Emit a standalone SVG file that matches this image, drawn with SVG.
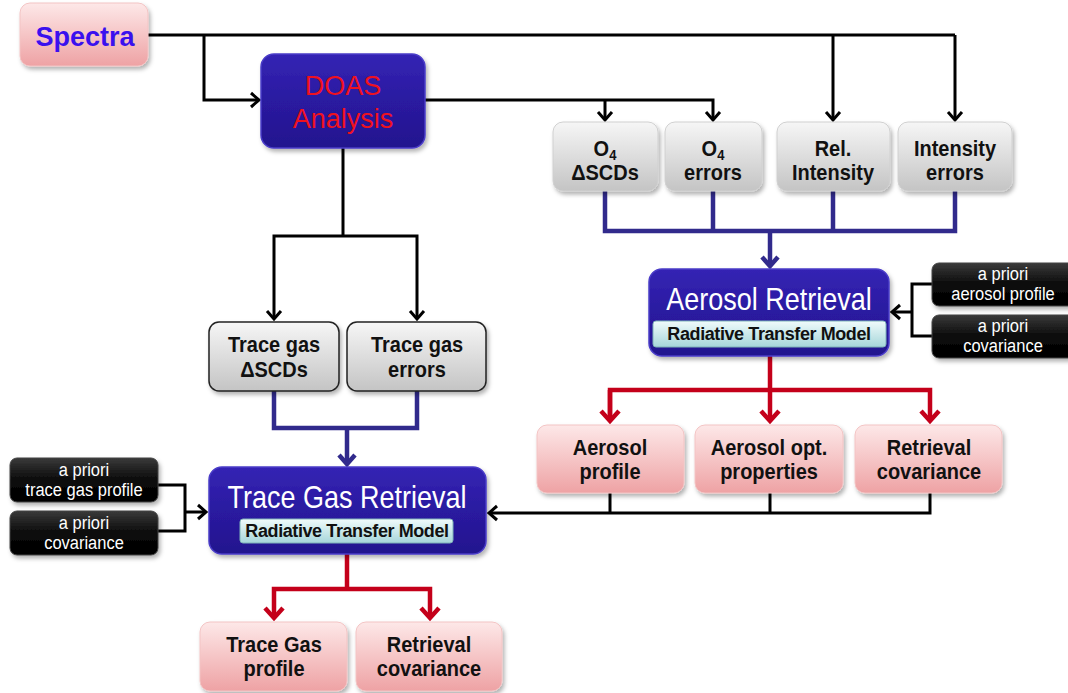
<svg xmlns="http://www.w3.org/2000/svg" width="1068" height="693" viewBox="0 0 1068 693">
<style>
text{font-family:"Liberation Sans",Arial,sans-serif;text-anchor:middle}
.lbl{font-size:20px;font-weight:bold;fill:#111}
.ap{font-size:16.5px;fill:#fff}
.big{font-size:27px;fill:#fff}
.rtm{font-size:18px;font-weight:bold;fill:#111;letter-spacing:-0.4px}
.pink{fill:url(#gPink);stroke:#f3c4c4;stroke-width:1;filter:url(#sh)}
.gray{fill:url(#gGray);stroke:#d0d0d0;stroke-width:1;filter:url(#sh)}
.grayD{fill:url(#gGray);stroke:#222;stroke-width:1.5;filter:url(#sh)}
.blue{fill:url(#gBlue);stroke:#4a3cc8;stroke-width:1.5;filter:url(#sh)}
.blk{fill:url(#gBlk);stroke:#444;stroke-width:1;filter:url(#sh)}
.bar{fill:url(#gCyan);stroke:#7fb3b8;stroke-width:1}
.cb{fill:none;stroke:#000;stroke-width:3}
.cu{fill:none;stroke:#312a8c;stroke-width:4.5}
.cr{fill:none;stroke:#c4001a;stroke-width:4.5}
</style>
<defs>
<linearGradient id="gPink" x1="0" y1="0" x2="0" y2="1"><stop offset="0" stop-color="#fde8e8"/><stop offset="1" stop-color="#eea2a4"/></linearGradient>
<linearGradient id="gGray" x1="0" y1="0" x2="0" y2="1"><stop offset="0" stop-color="#f6f6f6"/><stop offset="1" stop-color="#c4c4c4"/></linearGradient>
<linearGradient id="gBlue" x1="0" y1="0" x2="0" y2="1"><stop offset="0" stop-color="#3424b4"/><stop offset="0.5" stop-color="#2a1aa0"/><stop offset="1" stop-color="#23168e"/></linearGradient>
<linearGradient id="gBlk" x1="0" y1="0" x2="0" y2="1"><stop offset="0" stop-color="#3a3a3a"/><stop offset="0.5" stop-color="#0a0a0a"/><stop offset="1" stop-color="#000"/></linearGradient>
<linearGradient id="gCyan" x1="0" y1="0" x2="0" y2="1"><stop offset="0" stop-color="#f0fbfb"/><stop offset="1" stop-color="#a6d6da"/></linearGradient>
<filter id="sh" x="-10%" y="-10%" width="125%" height="130%"><feDropShadow dx="2" dy="3" stdDeviation="2" flood-color="#000" flood-opacity="0.3"/></filter>
<marker id="mb" markerUnits="userSpaceOnUse" viewBox="-12 -10 14 20" refX="0" refY="0" markerWidth="14" markerHeight="20" orient="auto" overflow="visible"><path d="M-8,-7 L0,0 L-8,7" fill="none" stroke="#000" stroke-width="3"/></marker>
<marker id="mu" markerUnits="userSpaceOnUse" viewBox="-12 -11 14 22" refX="0" refY="0" markerWidth="14" markerHeight="22" orient="auto" overflow="visible"><path d="M-9,-8 L0,0 L-9,8" fill="none" stroke="#312a8c" stroke-width="4.5"/></marker>
<marker id="mr" markerUnits="userSpaceOnUse" viewBox="-12 -11 14 22" refX="0" refY="0" markerWidth="14" markerHeight="22" orient="auto" overflow="visible"><path d="M-10,-9 L0,0 L-10,9" fill="none" stroke="#c4001a" stroke-width="4.5"/></marker>
</defs>
<rect width="1068" height="693" fill="#fff"/>

<g id="connectors">
<path class="cb" d="M148,35 H955"/>
<path class="cb" d="M204,35 V100 H259" marker-end="url(#mb)"/>
<path class="cb" d="M833,35 V120" marker-end="url(#mb)"/>
<path class="cb" d="M955,35 V120" marker-end="url(#mb)"/>
<path class="cb" d="M425,100 H713 V120" marker-end="url(#mb)"/>
<path class="cb" d="M605,100 V120" marker-end="url(#mb)"/>
<path class="cb" d="M343,148 V236"/>
<path class="cb" d="M343,236 H274 V319" marker-end="url(#mb)"/>
<path class="cb" d="M343,236 H417 V319" marker-end="url(#mb)"/>
<path class="cu" d="M605,191 V231 H955 V191"/>
<path class="cu" d="M713,191 V231"/>
<path class="cu" d="M833,191 V231"/>
<path class="cu" d="M770,231 V266" marker-end="url(#mu)"/>
<path class="cu" d="M274,391 V428 H417 V391"/>
<path class="cu" d="M347,428 V464" marker-end="url(#mu)"/>
<path class="cb" d="M932,284 H912 V336 H932"/>
<path class="cb" d="M912,312 H892" marker-end="url(#mb)"/>
<path class="cr" d="M770,356 V390"/>
<path class="cr" d="M610,421 V390 H930 V421" marker-end="url(#mr)"/>
<path class="cr" d="M610,390 V421" marker-end="url(#mr)"/>
<path class="cr" d="M770,390 V421" marker-end="url(#mr)"/>
<path class="cb" d="M610,493 V513"/>
<path class="cb" d="M770,493 V513"/>
<path class="cb" d="M930,493 V513 H489" marker-end="url(#mb)"/>
<path class="cb" d="M158,485 H185 V531 H158"/>
<path class="cb" d="M185,512 H206" marker-end="url(#mb)"/>
<path class="cr" d="M347,554 V589"/>
<path class="cr" d="M347,589 H274 V618" marker-end="url(#mr)"/>
<path class="cr" d="M347,589 H430 V618" marker-end="url(#mr)"/>
</g>

<g id="spectra">
<rect class="pink" x="20" y="3" width="128" height="63" rx="10"/>
<text x="85" y="46" style="font-size:27px;font-weight:bold;fill:#3a10ee">Spectra</text>
</g>

<g id="doas">
<rect class="blue" x="261" y="54" width="164" height="94" rx="13"/>
<text x="343" y="95" style="font-size:27px;fill:#f0121e">DOAS</text>
<text x="343" y="128" style="font-size:27px;fill:#f0121e">Analysis</text>
</g>

<g id="o4scd">
<rect class="gray" x="553" y="122" width="105" height="69" rx="10"/>
<text class="lbl" transform="matrix(1 0 0 1.12 605 156)">O<tspan style="font-size:13px" dy="4">4</tspan></text>
<text class="lbl" transform="matrix(1 0 0 1.12 605 180)">ΔSCDs</text>
</g>
<g id="o4err">
<rect class="gray" x="665" y="122" width="97" height="69" rx="10"/>
<text class="lbl" transform="matrix(1 0 0 1.12 713 156)">O<tspan style="font-size:13px" dy="4">4</tspan></text>
<text class="lbl" transform="matrix(1 0 0 1.12 713 180)">errors</text>
</g>
<g id="relint">
<rect class="gray" x="777" y="122" width="113" height="69" rx="10"/>
<text class="lbl" transform="matrix(1 0 0 1.12 833 156)">Rel.</text>
<text class="lbl" transform="matrix(1 0 0 1.12 833 180)">Intensity</text>
</g>
<g id="interr">
<rect class="gray" x="898" y="122" width="114" height="69" rx="10"/>
<text class="lbl" transform="matrix(1 0 0 1.12 955 156)">Intensity</text>
<text class="lbl" transform="matrix(1 0 0 1.12 955 180)">errors</text>
</g>

<g id="tgscd">
<rect class="grayD" x="209" y="322" width="130" height="69" rx="10"/>
<text class="lbl" transform="matrix(1 0 0 1.12 274 352)">Trace gas</text>
<text class="lbl" transform="matrix(1 0 0 1.12 274 377)">ΔSCDs</text>
</g>
<g id="tgerr">
<rect class="grayD" x="347" y="322" width="139" height="69" rx="10"/>
<text class="lbl" transform="matrix(1 0 0 1.12 417 352)">Trace gas</text>
<text class="lbl" transform="matrix(1 0 0 1.12 417 377)">errors</text>
</g>

<g id="aerret">
<rect class="blue" x="649" y="269" width="240" height="87" rx="13"/>
<text class="big" transform="matrix(1 0 0 1.15 769 310)">Aerosol Retrieval</text>
<rect class="bar" x="653" y="321" width="233" height="26" rx="3"/>
<text class="rtm" transform="matrix(1 0 0 1.05 769 340)">Radiative Transfer Model</text>
</g>

<g id="apaer">
<rect class="blk" x="932" y="263" width="145" height="43" rx="7"/>
<text class="ap" transform="matrix(1 0 0 1.1 1003 280)">a priori</text>
<text class="ap" transform="matrix(1 0 0 1.1 1003 300)">aerosol profile</text>
</g>
<g id="apaercov">
<rect class="blk" x="932" y="315" width="145" height="43" rx="7"/>
<text class="ap" transform="matrix(1 0 0 1.1 1003 332)">a priori</text>
<text class="ap" transform="matrix(1 0 0 1.1 1003 352)">covariance</text>
</g>

<g id="aerprof">
<rect class="pink" x="537" y="425" width="147" height="68" rx="10"/>
<text class="lbl" transform="matrix(1 0 0 1.12 610 455)">Aerosol</text>
<text class="lbl" transform="matrix(1 0 0 1.12 610 479)">profile</text>
</g>
<g id="aeropt">
<rect class="pink" x="695" y="425" width="148" height="68" rx="10"/>
<text class="lbl" transform="matrix(1 0 0 1.12 769 455)">Aerosol opt.</text>
<text class="lbl" transform="matrix(1 0 0 1.12 769 479)">properties</text>
</g>
<g id="aercov">
<rect class="pink" x="855" y="425" width="147" height="68" rx="10"/>
<text class="lbl" transform="matrix(1 0 0 1.12 929 455)">Retrieval</text>
<text class="lbl" transform="matrix(1 0 0 1.12 929 479)">covariance</text>
</g>

<g id="tgret">
<rect class="blue" x="209" y="467" width="277" height="87" rx="13"/>
<text class="big" transform="matrix(1 0 0 1.15 347 508)">Trace Gas Retrieval</text>
<rect class="bar" x="240" y="519" width="213" height="24" rx="3"/>
<text class="rtm" transform="matrix(1 0 0 1.05 347 537)">Radiative Transfer Model</text>
</g>

<g id="aptg">
<rect class="blk" x="10" y="458" width="148" height="44" rx="7"/>
<text class="ap" transform="matrix(1 0 0 1.1 84 476)">a priori</text>
<text class="ap" transform="matrix(1 0 0 1.1 84 496)">trace gas profile</text>
</g>
<g id="aptgcov">
<rect class="blk" x="10" y="511" width="148" height="44" rx="7"/>
<text class="ap" transform="matrix(1 0 0 1.1 84 529)">a priori</text>
<text class="ap" transform="matrix(1 0 0 1.1 84 549)">covariance</text>
</g>

<g id="tgprof">
<rect class="pink" x="200" y="622" width="147" height="69" rx="10"/>
<text class="lbl" transform="matrix(1 0 0 1.12 274 652)">Trace Gas</text>
<text class="lbl" transform="matrix(1 0 0 1.12 274 676)">profile</text>
</g>
<g id="tgcov">
<rect class="pink" x="356" y="622" width="146" height="69" rx="10"/>
<text class="lbl" transform="matrix(1 0 0 1.12 429 652)">Retrieval</text>
<text class="lbl" transform="matrix(1 0 0 1.12 429 676)">covariance</text>
</g>
</svg>
